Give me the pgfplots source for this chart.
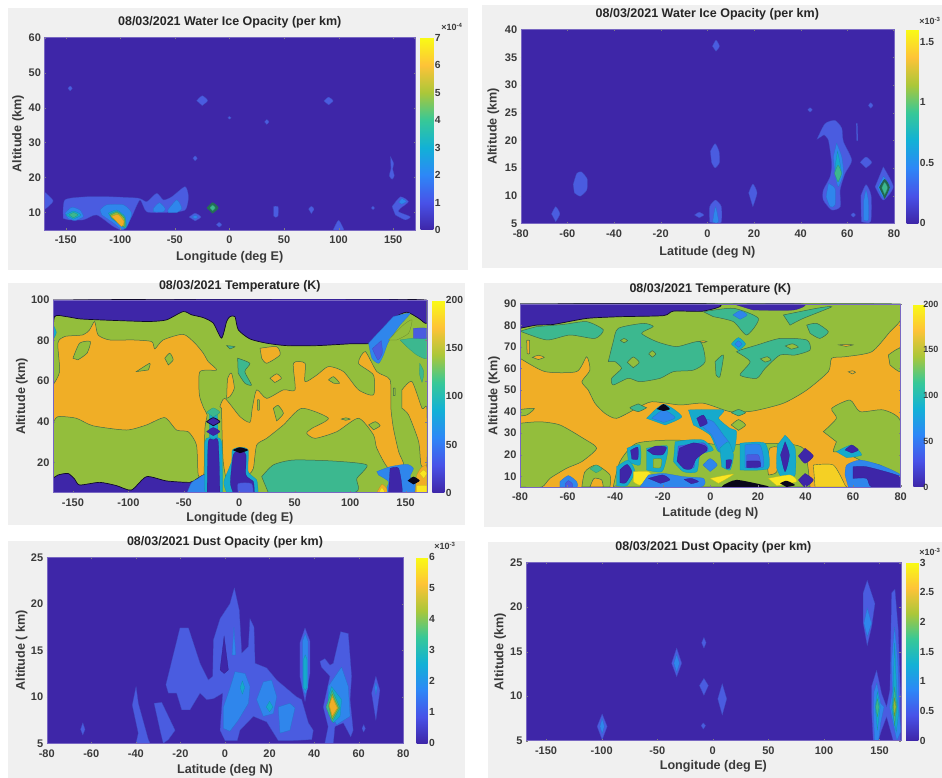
\documentclass[border=0pt]{standalone}
\usepackage{fontspec}
\setmainfont{Liberation Sans}
\usepackage{pgfplots}
\pgfplotsset{compat=1.18}
\definecolor{L0}{HTML}{3E26A8}
\definecolor{L1}{HTML}{4A5CE0}
\definecolor{L2}{HTML}{2F86EC}
\definecolor{L3}{HTML}{16AACC}
\definecolor{T}{HTML}{3CB88F}
\definecolor{G}{HTML}{93BE3C}
\definecolor{O}{HTML}{F0AE26}
\definecolor{Y}{HTML}{F9E622}
\definecolor{tk}{HTML}{3A3A3A}
\definecolor{pn}{HTML}{F0F0F0}
\definecolor{edge}{HTML}{3F6B4A}
\pgfplotsset{
 colormap={par}{rgb255=(62,38,168) rgb255=(72,82,232) rgb255=(45,135,247) rgb255=(18,177,214) rgb255=(55,200,151) rgb255=(171,199,57) rgb255=(254,195,56) rgb255=(249,251,21)},
 panel/.style={scale only axis,axis on top,colormap name=par,
  tick label style={font=\fontsize{11}{12}\selectfont\bfseries,text=tk},
  xticklabel style={yshift=-2.5pt},
  label style={font=\fontsize{12.6}{14}\selectfont\bfseries,text=tk},
  title style={font=\fontsize{12.5}{14}\selectfont\bfseries,text=black!85},
  major tick length=1.5pt,tick style={color=black!50},tick align=inside,
  axis line style={draw=L0!70!white,line width=.4pt},
  scaled ticks=false},
 pos/.style n args={3}{xlabel style={at={(axis description cs:0.5,#1)},anchor=center},
  ylabel style={at={(axis description cs:#2,0.5)},anchor=center},
  title style={at={(axis description cs:0.5,#3)},anchor=center}},
 rounded/.style={every axis plot/.append style={smooth,tension=.4}},
 lon/.style={xmin=-169.5,xmax=170,xtick={-150,-100,-50,0,50,100,150},xticklabels={-150,-100,-50,0,50,100,150},xlabel={Longitude (deg E)}},
 lat/.style={xmin=-80,xmax=80,xtick={-80,-60,-40,-20,0,20,40,60,80},xticklabels={-80,-60,-40,-20,0,20,40,60,80},xlabel={Latitude (deg N)}},
 cb/.style n args={4}{colorbar,point meta min=0,point meta max=#1,
  colorbar style={at={(parent axis.north east)},anchor=north west,xshift=#2,width=#3,
   ytick={#4},yticklabels={#4},major tick length=0pt,
   yticklabel style={font=\fontsize{10.3}{11}\selectfont\bfseries,text=tk,xshift=-2pt},
   axis line style={draw=none}}},
 l1/.style={fill=L1,draw=L1!85!black,line width=.25pt},
 l2/.style={fill=L2,draw=L2!85!black,line width=.25pt},
 l3/.style={fill=L3,draw=L3!85!black,line width=.25pt},
 l4/.style={fill=T,draw=T!80!black,line width=.25pt},
 l5/.style={fill=G,draw=G!70!black,line width=.25pt},
 l6/.style={fill=O,draw=O!80!black,line width=.25pt},
 l7/.style={fill=Y,draw=Y!80!black,line width=.25pt},
 l0/.style={fill=L0,draw=L0!80!black,line width=.25pt},
 bk/.style={fill=black!85!L0,draw=none},
 gn/.style={fill=G,draw=edge,line width=.5pt},
 te/.style={fill=T,draw=edge,line width=.5pt},
 og/.style={fill=O,draw=edge,line width=.5pt},
 bl/.style={fill=L0,draw=black!75!L0,line width=.7pt},
}
\newcommand{\R}[2]{\addplot[#1] coordinates {#2} --cycle;}
\begin{document}
\begin{tikzpicture}[x=1pt,y=1pt]
\path[use as bounding box] (0,0) rectangle (942,778);
\clip (0,0) rectangle (942,778);
\fill[pn] (8,508) rectangle (468,770);
\fill[pn] (482,510) rectangle (942,773);
\fill[pn] (8,253) rectangle (465,495);
\fill[pn] (484,251) rectangle (942,495);
\fill[pn] (8,0) rectangle (465,237);
\fill[pn] (488,0) rectangle (942,236);

% ---------- top left
\begin{axis}[panel,lon,rounded,pos={-.14}{-.0715}{1.05},at={(44.5pt,548pt)},anchor=south west,width=370.5pt,height=192.3pt,
 ymin=5,ymax=60,ytick={10,20,30,40,50,60},yticklabels={10,20,30,40,50,60},ylabel={Altitude (km)},
 title={08/03/2021 Water Ice Opacity (per km)},axis background/.style={fill=L0},
 cb={7}{-2.835pt}{12.6pt}{0,1,2,3,4,5,6,7}]
\R{l1}{(-170,16)(-161.5,13.3)(-170,10.7)}
\R{l1}{(-152.3,8.3)(-150.8,13.6)(-130.9,14.5)(-109.5,14.5)(-83.5,14.1)(-75.8,13.1)(-66.7,15.5)(-60.5,13.6)(-52.9,14.5)(-40.7,17.4)(-37.6,14.5)(-40.7,10.7)(-57.5,10)(-75.8,10.2)(-82,13.6)(-89.6,8.8)(-97.2,5)(-106.4,6)(-121.7,9.3)(-133.9,7.9)(-147.7,7.9)}
\R{l2}{(-150.8,9.8)(-144.6,11.5)(-137,10.7)(-134,8.8)(-141.6,7.7)(-148,8.3)}
\R{l3}{(-150,9.3)(-143,10.4)(-136,9.3)(-143,8.1)}
\R{l4}{(-147,9.3)(-143,10)(-139,9.3)(-143,8.5)}
\R{l2}{(-118.6,10.7)(-112.5,12.2)(-97.2,12.2)(-89.6,9.8)(-94,6)(-98.8,5.2)(-106.4,7)(-117,9.3)}
\R{l3}{(-111,9.8)(-103.4,10.7)(-95.7,8.8)(-94.8,5.5)(-100.3,6.5)(-108,8.3)}
\R{l4}{(-110,9.5)(-103,10.3)(-96,8.6)(-95.5,5.8)(-100,6.7)(-108,8.4)}
\R{l5}{(-109,9.2)(-103,10)(-96.5,8.3)(-96.5,6)(-100,7)(-108,8.6)}
\R{l6}{(-108,8.9)(-102,9.4)(-96.6,7.4)(-98.8,6)(-103.4,7.4)}
\R{l2}{(-69.7,11.2)(-64.2,12.8)(-59,11.2)(-60.5,10.2)(-69.7,10.2)}
\R{l2}{(-56.6,10.7)(-48.3,13.6)(-43.7,11.2)(-48.3,10)(-56,10)}
\R{l1}{(-37,8.7)(-31.5,9.8)(-26,8.7)(-31.5,7.6)}
\R{l2}{(-34,8.7)(-31.5,9.2)(-29,8.7)(-31.5,8.2)}
\R{l1}{(-30,42)(-25,43.4)(-20,42)(-25,40.6)}
\R{l1}{(86.5,41.9)(90.8,43)(95,41.9)(90.8,40.8)}
\R{l1}{(-148,45.5)(-146,46.2)(-144,45.5)(-146,44.8)}
\R{l1}{(-33.5,25.5)(-31.5,26.2)(-29.5,25.5)(-31.5,24.8)}
\R{l1}{(32.2,35.9)(34.2,36.6)(36.2,35.9)(34.2,35.2)}
\R{l1}{(-1.5,37.1)(0,37.5)(1.5,37.1)(0,36.7)}
\R{l1}{(147.5,26)(150.5,24)(149.5,22.5)(151,20.5)(149,19.5)(146.5,20.5)(148,22.5)}
\R{l1}{(40.5,11.7)(44.5,11.7)(44.5,9)(42.5,8.6)(40.5,9)}
\R{l1}{(72.5,11)(75,11.8)(77.5,11)(75,9.7)}
\R{l1}{(95,5)(100,7.8)(105,5)}
\R{l1}{(130,11.3)(131.5,11.8)(133,11.3)(131.5,10.8)}
\R{l1}{(149,11.7)(156.6,14.5)(164,13.1)(156.6,11.2)(155,10.2)(165.7,8.8)(161,7.9)(152,9.3)}
\R{l1}{(-12,6.5)(-9.5,7.2)(-7,6.5)(-9.5,5.8)}
\R{l2}{(158,14)(162,13.2)(158,12.4)(155,13)}
\addplot[fill=black!40!T,draw=none] coordinates {(-21,11.3)(-15.5,12.9)(-10,11.3)(-15.5,9.7)} --cycle;
\R{l4}{(-18,11.3)(-15.5,12.1)(-13,11.3)(-15.5,10.5)}
\end{axis}

% ---------- top right
\begin{axis}[panel,lat,rounded,pos={-.152}{-.0735}{1.05},at={(520.7pt,554.7pt)},anchor=south west,width=373.3pt,height=193.6pt,
 ymin=5,ymax=40,ytick={5,10,15,20,25,30,35,40},yticklabels={5,10,15,20,25,30,35,40},ylabel={Altitude (km)},
 title={08/03/2021 Water Ice Opacity (per km)},axis background/.style={fill=L0},
 cb={1.6}{4.165pt}{11.6pt}{0,0.5,1,1.5}]
\R{l1}{(-66.8,6.7)(-65,8)(-63.2,6.7)(-65,5.3)}
\R{l1}{(-57.5,12)(-56,14)(-54,14.3)(-51.5,13)(-51.7,11)(-54.5,9.9)(-57,10.5)}
\R{l1}{(-5.5,6.5)(-3.5,7)(-1.5,6.5)(-3.5,6)}
\R{l1}{(1,5.2)(1,8)(3.5,9.2)(6,8)(6,5.2)(3.5,5)}
\R{l2}{(2.3,5.3)(3.5,8)(4.8,5.3)(3.5,5.05)}
\R{l1}{(1.3,18)(3.3,19.4)(5,18)(5.2,16)(3.3,15)(1.8,16)}
\R{l1}{(2.2,37)(3.7,38.1)(5.2,37)(3.7,36.1)}
\R{l1}{(17.7,10.5)(19.5,12.1)(21.3,10.5)(19.5,8)}
\R{l1}{(43,25.5)(44,25.9)(45,25.5)(44,25.1)}
\R{l1}{(69,26.3)(70,26.8)(71,26.3)(70,25.8)}
\R{l1}{(61.5,6.5)(62.5,6.9)(63.5,6.5)(62.5,6.1)}
\R{l1}{(63.8,23)(64.3,23)(64.5,20)(64,20)}
\R{l1}{(65.5,16)(68,17)(70.5,16)(68,15)}
\R{l1}{(65.8,10)(68,12)(70.2,10)(70,5.3)(66,5.3)}
\R{l2}{(67,9)(68,11)(69,9)(69,5.6)(67,5.6)}
\R{l1}{(47,20.2)(50.4,23)(54.7,23.6)(57.6,22.2)(58.3,19.8)(61.9,16.4)(59,14)(56.9,11)(57,8)(53.3,7.4)(49.7,9.2)(49.7,11)(52.6,13.4)(53.3,15.8)(51.9,20)(50,21)}
\R{l2}{(55.4,19.5)(57.6,17)(58.3,14)(56.1,11.6)(54.7,14)(54,17)}
\R{l3}{(55.8,18)(56.8,16)(57.4,14)(56,12.5)(54.9,14)(55,16)}
\R{l4}{(54.5,14)(56,15.5)(57.5,14)(56,12.5)}
\R{l2}{(51.9,12.2)(54.7,11.3)(54.7,8.3)(52.6,8)(50.9,9.8)}
\R{l1}{(75.4,15.2)(79.7,11.6)(75.4,9.2)(71.9,11.6)}
\R{l2}{(75.5,13.5)(78.5,11.5)(75.5,9.6)(73,11.5)}
\addplot[fill=black!45!T,draw=none] coordinates {(73.6,11.5)(76,13)(78.2,11.5)(76,9.4)} --cycle;
\R{l4}{(74.8,11.4)(76,12.4)(77.2,11.4)(76,10.2)}
\end{axis}

% ---------- middle left
\begin{axis}[panel,lon,rounded,pos={-.133}{-.083}{1.042},xmin=-168,xmax=169,at={(53pt,285.3pt)},anchor=south west,width=373.7pt,height=192.7pt,
 ymin=5,ymax=100,ytick={20,40,60,80,100},yticklabels={20,40,60,80,100},ylabel={Altitude (km)},
 title={08/03/2021 Temperature (K)},axis background/.style={fill=G},
 cb={200}{-2.9pt}{12pt}{0,50,100,150,200}]
\R{og}{(-168,58.1)(-162,64.7)(-163.6,78.7)(-157.5,82)(-141,82.8)(-135,85.3)(-130.4,89.4)(-127.4,82.8)(-117,80.3)(-95.8,80.3)(-79,79.5)(-76.2,75.9)(-68.7,80.3)(-50.6,83.1)(-40,78.7)(-32.5,73.8)(-28,69.6)(-20.5,65.5)(-35.5,64.7)(-36,53.2)(-32,46.6)(-29,43.3)(-31,36.7)(-32,13.7)(-37,13.7)(-38.6,28.5)(-46,35)(-56.6,35.9)(-67.2,42)(-83.7,38.4)(-101.8,35.9)(-132,38)(-147,41.7)(-163.6,42.5)(-168,39.2)}
\R{og}{(-17.5,47.4)(-13,51.5)(0.6,42.5)(9.6,39.7)(11.7,46.6)(15.7,55.7)(24.7,51.5)(39.8,55.7)(50.3,55.7)(48.8,68.8)(59.3,68.8)(59.3,59.8)(69.9,63)(80.4,67.2)(94,64.7)(107.5,55.7)(121,53.2)(121,63)(107.5,68.8)(113.6,74.6)(124,64.7)(136,60.6)(136.7,46.6)(139,36.7)(143.7,25.2)(148,18.7)(134.6,17)(124,26.9)(121,33.5)(107.5,41.7)(88,35.1)(68.4,31.8)(60.8,34.3)(65.4,36.7)(80.4,41.7)(56.3,46.6)(39.8,38.4)(24.7,31.8)(15.7,28.5)(12.7,17)(8,13.7)(-8.4,7.1)(-14.5,20.3)(-16,46.6)}
\R{og}{(146.7,55.7)(155.7,59.8)(164.8,46.6)(169,46.6)(169,18.7)(163.9,18.7)(161.7,30.2)(152.7,43.3)(146.7,46.6)}
\R{og}{(18.7,76.2)(33.7,77)(36.7,72.9)(24.7,68.8)(20.2,71.3)}
\R{og}{(27.7,61.4)(33.7,63.6)(38,61.4)(32,59.3)}
\R{og}{(-11.4,51.5)(-10.5,61.4)(-7,63.9)(-4.5,56.5)(-8.4,52.4)}
\R{gn}{(-150,71.3)(-144,78.7)(-134.3,79.5)(-137.3,73.8)(-145.5,70.5)}
\R{gn}{(-92.8,64.7)(-80.7,68.8)(-82,65.5)}
\R{gn}{(-67.2,71.3)(-62.7,73.8)(-59.6,70.5)(-64,68)}
\R{gn}{(30.7,46.6)(35,48)(39.8,44.1)(33.7,40.4)}
\R{gn}{(80.4,60.6)(85,62.2)(90.4,59)(85,59)}
\R{gn}{(116.6,38.4)(122.6,40)(127,38)(121,36)}
\R{gn}{(16.3,50.7)(18,50.7)(18,45.8)(16.5,45.8)}
\R{gn}{(139,56.5)(140.5,56.5)(140.5,53)(139,53)}
\R{gn}{(92,41.3)(96,41.9)(100,41.3)(96,40.7)}
\R{te}{(-1.5,71.3)(9.6,68.8)(5,64.7)(11,58.1)(5,59)(-1,63.9)}
\R{te}{(-11.4,77.5)(-4,77)(-8.4,75.9)}
\R{te}{(20.2,12.9)(30.7,18.7)(48.8,21.1)(85,20.6)(115,18.7)(106,12)(103,5)(26.2,5)}
\R{bl}{(-168,80.3)(-166.6,91.8)(-156,91.8)(-144,90.7)(-126,90.2)(-101.8,89.7)(-80.7,89.4)(-65.7,90.2)(-50.6,94.3)(-43,92.7)(-32.5,91.3)(-23.5,88.6)(-16,81.2)(-11.4,89.4)(-8.4,91.8)(-3.9,91.8)(-0.9,85.3)(9.6,80.8)(24.7,78.7)(42.8,77.5)(69.9,77.5)(100,78.4)(118,78.7)(127,83.6)(139,91)(151,94)(161.7,91)(169,88.6)(169,100)(-168,100)}
\R{l3}{(-168,80.3)(-165,84)(-168,88)}
\R{l2}{(116.6,78.7)(119.6,71.3)(125.6,68.8)(130,72.9)(134.6,79.5)(145,87.7)(154,93.5)(139,91.8)}
\R{l1}{(120,76)(125,70.5)(129,74)(128,80)}
\R{l4}{(145,80.3)(157,81.2)(169,81.2)(169,71.3)(160,72.9)(151,77)}
\R{l5}{(134.6,80.3)(148,87.7)(155.7,90.2)(152.7,83.6)(142,80.3)}
\R{l1}{(157,86)(169,86)(169,81.2)(157,81.2)}
\R{l4}{(162.7,68.8)(166.3,64.7)(164.8,59.4)(162.3,63.9)}
\R{bl}{(-168,12)(-163.6,13.7)(-154.5,14.5)(-148.5,11.7)(-144,8.8)(-126,10.1)(-110.8,8.5)(-97.3,6.3)(-83.7,12.9)(-65.7,10.8)(-44.6,10.1)(-38.6,11.7)(-31,13.7)(-31,5)(-168,5)}
\R{l2}{(-47,5)(-43,10)(-38,11.7)(-31,13.7)(-31,5)}
\R{l3}{(-27,44)(-20,44)(-20,30)(-27,30)}
\R{l3}{(-31,5)(-31,30.2)(-23.5,31.8)(-16,30.2)(-15,5)}
\R{l0}{(-29,5)(-28,30)(-23.5,31)(-19,30.2)(-17.5,5)}
\R{l4}{(-29.5,44.6)(-23.5,46.8)(-17.5,44.6)(-23.5,42.4)}
\R{bl}{(-29.5,40)(-23.5,42)(-17.5,40)(-23.5,38)}
\R{l0}{(-29.5,35.1)(-23.5,37.1)(-17.5,35.1)(-23.5,33.1)}
\R{l3}{(-11.4,5)(-13.9,10.4)(-7,20.3)(-6.3,26)(0.6,27.4)(8,26)(8,15.4)(15.7,11.2)(17,5)}
\R{l0}{(-5.4,5)(-8,10)(-5.4,23.6)(0.6,26)(6,23.6)(6,13.7)(12.7,10.4)(13.5,5)}
\R{l1}{(-1,5)(-1,9.5)(11,9.5)(12.5,5)}
\R{bk}{(-6,26)(0.6,27.4)(8,26)(0.6,24.5)}
\R{l2}{(124,15.4)(136,17.8)(151,19)(157,17)(154,12.9)(158.7,10.4)(157,5)(133,5)(134.6,10.4)(125.6,13.7)}
\R{l0}{(136,17)(143.7,17)(146.7,5)(134.6,5)}
\R{l6}{(160,13.7)(164,17.3)(169,17.8)(169,5)(158.7,5)}
\R{l7}{(162.6,14.5)(166.3,16.2)(169,14.5)(166.3,12)}
\R{l7}{(160,8.5)(169,8.5)(169,5)(160,5)}
\R{bk}{(151.8,10.9)(157,12.9)(162.7,10.9)(157,9.1)}
\R{l6}{(124,5)(128.6,9.1)(133,7)(133,5)}
\R{l7}{(126,5)(128.6,7.5)(131.5,5)}
\end{axis}

% ---------- middle right
\begin{axis}[panel,lat,rounded,pos={-.144}{-.068}{1.049},at={(520pt,291pt)},anchor=south west,width=380.7pt,height=183pt,
 ymin=5,ymax=90,ytick={10,20,30,40,50,60,70,80,90},yticklabels={10,20,30,40,50,60,70,80,90},ylabel={Altitude (Km)},
 title={08/03/2021 Temperature (K)},axis background/.style={fill=O},
 cb={200}{4.065pt}{11pt}{0,50,100,150,200},
 colorbar style={yticklabel style={font=\fontsize{9}{10}\selectfont\bfseries,xshift=-2.5pt}}]
\R{gn}{(-80,64.8)(-69.5,58.6)(-56.2,58.6)(-52,65.5)(-50.6,59.3)(-54,53.9)(-51.3,50)(-48.5,43.9)(-44.3,39.2)(-39.4,36.9)(-31,41.5)(-24.6,44.6)(-12.7,43.1)(-2.9,43.9)(8.3,40)(18,40.3)(30.7,43.9)(40.5,50)(49.6,58.6)(51,64.8)(56.6,65.5)(67.8,67.8)(75.5,77.1)(80,82.6)(80,90)(-80,90)}
\R{gn}{(-80,34.6)(-71.6,35.3)(-63.2,33.8)(-53.4,27.6)(-47.8,23)(-54,16.8)(-60.4,13.7)(-67.4,9)(-70.9,5)(-80,5)}
\R{gn}{(47.5,30.7)(53,36.9)(51,41.5)(58.7,45.4)(62.9,40)(72.7,40.8)(80,35.3)(80,10.6)(71.3,15.2)(64.3,16.8)(55.9,21.4)(51.7,21.4)(53,26)}
\R{gn}{(-80,41)(-74,41.5)(-77,38.5)(-80,38)}
\R{gn}{(74.8,66.3)(80,69.4)(80,58.6)(75.5,61.7)}
\R{gn}{(-40.8,5)(-38,16.8)(-31,25.3)(-14,26.8)(5.5,24.5)(25,25.3)(39,23)(41.9,5)}
\R{og}{(23.7,16.8)(25,23)(28.6,23)(27.9,12.1)(24.4,10.6)}
\R{og}{(-77.2,73)(-76,73)(-76,67)(-77,67)}
\R{og}{(-74.8,65.2)(-72.3,66.2)(-69.8,65.2)(-72.3,64.2)}
\R{og}{(-5,72.5)(-3,72.9)(-1.5,72.5)(-3,72)}
\R{og}{(58,58.5)(59.7,59)(61,58.3)(59.7,57.5)}
\R{og}{(54,71)(57,71.3)(60,71)(57,70.3)}
\R{bl}{(-80,78.7)(-73,80.2)(-66,80.5)(-52,83.3)(-38,84.1)(-19.7,84.6)(-15.5,86.7)(-2.9,86.7)(1.3,90)(-80,90)}
\R{te}{(-80,77.4)(-68.8,73.3)(-59,75.6)(-48.5,74)(-45,78)(-52,81.8)(-61.8,80.5)(-73,79.5)}
\R{te}{(-42.9,63.2)(-40.8,72.5)(-38.7,78.7)(-28.2,81)(-24,79.5)(-28.9,76.4)(-22.5,72.5)(-14.1,70.2)(-4.3,72.5)(-2.2,63.2)(-7.1,59.3)(-15.5,58.6)(-21.1,55.5)(-29.6,53.9)(-34.5,55.5)(-40.8,52.4)(-41.5,55.5)(-37.3,60.1)(-40,63.2)}
\R{gn}{(-34.9,62.9)(-32.4,65.4)(-29.9,62.9)(-32.4,60.4)}
\R{gn}{(-25.9,66.8)(-24.4,68.3)(-22.9,66.8)(-24.4,65.3)}
\R{gn}{(-37.8,73)(-36.3,74)(-34.8,73)(-36.3,72)}
\R{te}{(-2.9,86.4)(9.7,88)(20.2,83.3)(15.3,75.6)(9.7,81.8)(1.3,84.1)}
\R{te}{(30.7,84.9)(44.7,88)(51,88.7)(39,83.3)(33.5,80.2)}
\R{te}{(40.5,80.2)(44.7,81)(49.6,77.1)(46,74)(41.9,76.4)}
\R{te}{(12.5,68.6)(19.5,70.9)(29.3,74)(40.5,73.3)(41.9,68.6)(35.6,66.3)(29.3,66.3)(23,60.1)(19.5,55.5)(12.5,57)(16.7,63.2)(11,67.8)}
\R{gn}{(31.5,70.5)(34.5,71.5)(37,70)(34,69)}
\R{gn}{(21,64.5)(24,65.5)(25.5,64)(23,63)}
\R{te}{(2,63.2)(5.5,66.3)(4,56.2)(2.4,57)}
\R{l3}{(8.8,71.4)(11.8,74.4)(14.8,71.4)(11.8,68.4)}
\R{l2}{(10.3,71.4)(11.8,72.9)(13.3,71.4)(11.8,69.9)}
\R{l2}{(9.5,84.9)(12.5,86.9)(15.5,84.9)(12.5,82.9)}
\R{l0}{(9.7,90)(39,90)(34.9,87.2)(18,87.2)}
\R{te}{(-30.3,43.6)(-33.8,41.8)(-30.3,40)(-26.8,41.8)}
\R{te}{(8.8,39.5)(11.8,41)(14.8,39.5)(11.8,38)}
\R{gn}{(8.8,33.8)(11.8,36.3)(14.8,33.8)(11.8,31.3)}
% bottom structures
\R{l3}{(-9.2,40.8)(5.5,40.8)(3.4,36.9)(8.3,32.2)(11,30.7)(9.7,21.4)(3.4,21.4)(-0.1,29.1)(-7.1,33.8)}
\R{l2}{(-2.9,36.9)(1.3,35.3)(5.5,29.1)(8.3,24.5)(4,21.4)(0.6,29.1)(-4.3,33.8)}
\R{l0}{(-5.7,36.9)(-2.9,38.4)(-1.3,34.6)(-4.3,33)}
\R{l3}{(-26.8,36.9)(-19.7,43.5)(-12,37.7)(-19,33.8)}
\R{l2}{(-24.6,36.9)(-19.7,40.8)(-14.8,37.2)(-19.7,35)}
\R{bk}{(-22.5,41.2)(-19.7,43.5)(-17,41.2)(-19.7,40.3)}
\R{l3}{(-35,23)(-29.6,24.5)(-29.6,15.2)(-34.5,16.8)}
\R{l0}{(-33.5,22)(-30.5,23.5)(-30.5,18)(-33,18)}
\R{l3}{(-39.4,14.4)(-34.5,17.5)(-31.7,12.1)(-35,5.6)(-39.4,5.6)}
\R{l0}{(-38,13)(-35,15.5)(-33,12)(-35.5,7)(-38,7)}
\R{l3}{(-26.8,23)(-18.3,24.2)(-18.3,19.1)(-20.4,12.1)(-26.8,12.9)}
\R{l5}{(-24,18)(-20.5,18)(-21,14)(-24,14)}
\R{l0}{(-26.5,22)(-23,24)(-18.5,23.5)(-20,20)(-24,20)}
\R{l3}{(-14.8,26)(-10,26.8)(-3,26.8)(1.3,22.2)(-4.3,19.9)(-5.7,12.1)(-11.3,12.1)(-15.5,16.8)}
\R{l1}{(-13.5,24)(-3,25.5)(-1,22)(-6,19)(-7,14)(-11,14)(-14,17)}
\R{l0}{(-13,23)(-7,25.5)(-2,24)(-1.5,22)(-6,18)(-8,13.5)(-11,13.5)(-14,17)}
\R{l3}{(4,23)(7.6,26)(9.7,19.9)(8.3,12.9)(4.8,14.4)}
\R{l0}{(6.6,17.5)(9,17.5)(8,13.7)(6.6,13.7)}
\R{l3}{(12.5,25.3)(23,25.3)(24.4,13.7)(12.5,12.9)}
\R{l2}{(14.6,24.5)(20.9,24.5)(22.3,14.4)(14.6,14)}
\R{l1}{(15.3,19.9)(20.2,19.9)(20.9,14.4)(15.3,14)}
\R{l0}{(15.3,17)(20.5,17)(20.9,14.4)(15.3,14)}
\R{l3}{(31.4,29.1)(35.6,23)(35.6,10.6)(31.4,7.5)(27.9,13.7)(28.2,24.5)}
\R{l0}{(31.4,26)(33.2,19.9)(31.4,12.1)(29.5,19.9)}
\R{l0}{(39.8,23)(43.3,19.4)(39.8,16)(37,19.4)}
\R{l0}{(39.8,11.3)(43.3,8.3)(39.8,5)(37,8.3)}
\R{l3}{(53,21.4)(59.4,24.5)(63.6,19.9)(57.3,18.6)}
\R{l0}{(56.6,22.2)(59.4,24.5)(62.2,22.2)(59.4,20.8)}
\R{l2}{(56.6,10.6)(57.3,15.2)(62.9,17.5)(71.3,15.2)(80,10.6)(80,5)(58,5)}
\R{l0}{(60,14.4)(65.7,14.4)(80,9.8)(80,5)(67.8,5)(65.7,9)(60,9)}
\R{l2}{(-63.2,7.5)(-59.7,10.3)(-56.2,7.5)(-56.2,5)(-63.2,5)}
\R{l1}{(-61,6.5)(-59.7,8)(-58,6.5)(-58,5)(-61,5)}
\R{gn}{(-54,5)(-52.7,12.1)(-48,15.2)(-42.2,10.6)(-42.2,5)}
\R{og}{(-50.6,5)(-48.9,9)(-45.7,8.3)(-45,5)}
\R{l4}{(-50.5,13.4)(-48,15.2)(-45.5,13.4)(-48,11.6)}
\R{l7}{(-32.4,12.1)(-26,12.1)(-24.6,9)(-29.6,5.9)(-32.4,7.5)}
\R{l7}{(-0.1,9)(9.7,11)(3.4,6.7)}
\R{l7}{(24.4,9)(33.5,10.6)(36.3,7.5)(27.9,5.6)}
\addplot[fill=Y!60!O,draw=edge,line width=.4pt] coordinates {(43.3,15.2)(51.7,15.2)(56.6,5.9)(56.6,5)(44,5)} --cycle;
\R{l2}{(-26,10.6)(-19.7,11.3)(-11.3,9.8)(-2.9,9)(-4.3,5)(-29.6,5)}
\R{l0}{(-26,9)(-20,10.6)(-17,8.3)(-21,6.7)}
\R{l0}{(-11,8.5)(-8,9)(-5,7.5)(-8,6.5)}
\R{l2}{(-3.1,15.2)(-0.1,18.2)(2.9,15.2)(-0.1,12.2)}
\R{bk}{(5.5,5.9)(11,8.3)(22.3,5.9)(23.7,5)(4.8,5)}
\R{bk}{(29.3,6.7)(32,7.9)(35.6,5.9)(32,5)}
\end{axis}

% ---------- bottom left
\begin{axis}[panel,lat,pos={-.144}{-.07}{1.05},at={(46.7pt,34.7pt)},anchor=south west,width=356.6pt,height=186pt,
 ymin=5,ymax=25,ytick={5,10,15,20,25},yticklabels={5,10,15,20,25},ylabel={Altitude ( km)},
 title={08/03/2021 Dust Opacity (per km)},axis background/.style={fill=L0},
 cb={6}{4.865pt}{11pt}{0,1,2,3,4,5,6}]
\R{l1}{(-26.5,11.3)(-20.2,17.4)(-16.4,17.4)(-11.2,13.6)(-7.5,11.8)(-5.5,12.2)(-5.2,16.1)(-2.2,18.4)(2.2,20)(4.2,21.7)(6.4,19.3)(7.5,14.7)(10.5,15.4)(11.2,18.4)(13,17.5)(13.5,13.6)(18.7,13.1)(23.2,11.8)(32.1,10)(34.4,9.7)(37.4,7.2)(39.6,6.4)(38.9,5.4)(30.6,5.3)(23.9,5.3)(18.7,7.3)(12.7,7.9)(6.7,6.4)(5.5,5.3)(0,5.3)(-2.2,6.4)(-1,10.4)(-5.2,9.8)(-8.2,9.7)(-11.2,10.4)(-15.7,8.6)(-19.4,8.6)(-21.7,10.4)(-25.4,10.4)}
\R{l0}{(-2.2,12.9)(-0.4,16.5)(1.5,12.9)(-0.4,12.5)}
\R{l2}{(3.2,14.5)(4,17.5)(4.8,14.5)}
\R{l2}{(-0.7,8.9)(2.2,10.9)(4.5,12.7)(9,12.5)(11.2,11.1)(10.5,9.3)(6,7.5)(2.2,6.3)(-0.7,6.6)}
\R{l3}{(6.8,11)(7.8,11.7)(8.8,11)(7.8,10.3)}
\R{l2}{(14.2,9.7)(17.2,11.6)(20.9,11.8)(23.2,10)(21.7,8.2)(17.2,7.9)}
\R{l3}{(18.5,8.9)(20,9.5)(21.5,8.9)(20,8.4)}
\R{l2}{(23.9,8.9)(29.1,9.3)(31.4,8.8)(29.1,6.4)(24.7,6.1)}
\R{l1}{(33.6,15.8)(35.9,17.4)(38.1,16)(38.1,12.5)(35.9,9.5)(33.6,12.2)}
\R{l2}{(34.8,16)(36,16.8)(37.2,16)(37.2,11)(36,10.2)(34.8,11)}
\R{l3}{(35.2,14)(36,14.5)(36.8,14)(36.8,11)(36,10.7)(35.2,11)}
\R{l1}{(-64.8,6.5)(-63.8,7.2)(-62.8,6.5)(-63.8,5.9)}
\R{l1}{(-39.9,11.1)(-38.9,9.3)(-34.4,5.4)(-33.6,5)(-39.9,5)(-38.9,6.1)(-41.6,9.1)}
\R{l1}{(-31.8,9.3)(-28.4,9.4)(-22.4,6.4)(-25.4,5.4)(-27.7,5)(-29.1,6.4)}
\R{l1}{(42.6,13.8)(44.8,14.1)(47.1,13.4)(48.6,13.6)(51.9,17)(55.3,16.8)(56.8,12.2)(56.1,9.7)(57.5,6.4)(56.4,5.7)(53.1,7.2)(49.3,6.8)(48.6,5)(44.8,5)(46.3,6.8)(44.1,8.9)(47.1,12.2)(43.3,13.2)}
\R{l2}{(46.3,11.1)(52.3,13.2)(55.3,11.1)(56.1,7.9)(50.1,7)(46.3,8.6)}
\R{l3}{(46.3,10)(47.8,11.1)(52.3,9.7)(51.6,7.9)(48.6,7.2)(46.3,8.2)}
\R{l4}{(45.3,8.9)(48.1,10.7)(51.6,8.8)(48.1,7.3)}
\R{l5}{(46.5,9)(48.1,10.3)(50.9,8.8)(48.1,7.6)}
\R{l6}{(46.8,9.1)(48.1,10)(50.4,8.8)(48.1,7.9)}
\R{l1}{(67.7,12.2)(69.5,10.7)(67.7,7.5)(65.8,10.4)}
\R{l2}{(67.2,11)(67.7,11.5)(68.3,11)(67.7,10.2)}
\R{l1}{(61.5,6.6)(62.2,7)(63,6.6)(62.2,6.2)}
\end{axis}

% ---------- bottom right
\begin{axis}[panel,lon,pos={-.142}{-.069}{1.054},xmin=-168,xmax=169,at={(526pt,37.3pt)},anchor=south west,width=374.7pt,height=178pt,
 ymin=5,ymax=25,ytick={5,10,15,20,25},yticklabels={5,10,15,20,25},ylabel={Altitude (km)},
 title={08/03/2021 Dust Opacity (per km)},axis background/.style={fill=L0},
 cb={3}{-3.2pt}{12.3pt}{0,0.5,1,1.5,2,2.5,3}]
\R{l1}{(-104,6.6)(-99.5,8)(-95,6.6)(-99.5,5.1)}
\R{l2}{(-101.5,6.6)(-99.5,7.5)(-97.5,6.6)(-99.5,5.8)}
\R{l1}{(-37,13.7)(-32.5,15.4)(-28,13.7)(-32.5,12.2)}
\R{l2}{(-35,13.7)(-32.5,14.7)(-30,13.7)(-32.5,12.7)}
\R{l1}{(-12,11.2)(-8,12)(-4,11.2)(-8,10.1)}
\R{l1}{(4.5,9.7)(8.5,11.4)(12.5,9.7)(8.5,7.9)}
\R{l1}{(-10,16)(-8,16.6)(-6,16)(-8,15.4)}
\R{l1}{(-10.5,6.7)(-8.5,7)(-6.5,6.7)(-8.5,6.3)}
\R{l1}{(138.9,23)(145.8,20.4)(142.8,17.8)(138.9,15.7)(135.3,18.2)(135.3,21.6)}
\R{l2}{(138.9,19.9)(142.8,18.2)(138.9,16.7)(135.9,18.2)}
\R{l1}{(147.3,12.9)(151.8,10.3)(156.3,8.8)(159.3,10.7)(159.9,14.4)(160.8,21.6)(163.8,22)(166.8,17.4)(168.9,9.9)(168.9,5)(162.3,5)(156.3,7.7)(151.8,6.2)(148.8,5)(144.3,5)(142.8,8.4)(142.8,11.1)}
\R{l2}{(147.5,11.5)(151,9.2)(154,8.8)(151,7)(149,5)(145.5,5)(144.5,8.5)(145,10.5)}
\R{l2}{(160.8,14)(163.5,17.8)(166.3,14)(167.5,9)(168.9,6)(165.5,5)(159,8.8)(161.5,10.5)}
\R{l3}{(146.2,8.8)(148,10.5)(150.5,8.8)(148,6.2)}
\R{l3}{(162,10)(163.5,16)(165.5,10)(167,8)(165,6)(161,8.5)}
\R{l4}{(146.5,8.8)(148,9.7)(149.5,8.8)(148,7.7)}
\R{l4}{(161.8,8.8)(163.5,11)(165.5,8.8)(163.5,6.7)}
\R{l5}{(162.5,8.8)(163.5,9.8)(164.8,8.8)(163.5,7.8)}
\end{axis}

\node[font=\fontsize{9}{10}\selectfont\bfseries,text=tk] at (452,751) {×10\textsuperscript{-4}};
\node[font=\fontsize{9}{10}\selectfont\bfseries,text=tk] at (930,757) {×10\textsuperscript{-3}};
\node[font=\fontsize{9}{10}\selectfont\bfseries,text=tk] at (445,232) {×10\textsuperscript{-3}};
\node[font=\fontsize{9}{10}\selectfont\bfseries,text=tk] at (930,226) {×10\textsuperscript{-3}};
\end{tikzpicture}
\end{document}
